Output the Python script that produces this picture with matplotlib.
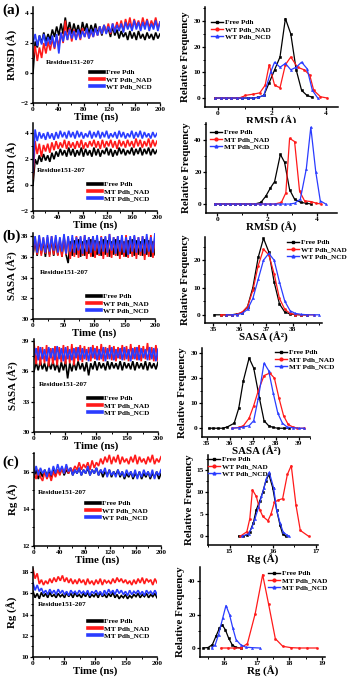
import numpy as np
import matplotlib
matplotlib.use("Agg")
import matplotlib.pyplot as plt
from matplotlib.ticker import AutoMinorLocator
from matplotlib.lines import Line2D

plt.rcParams['font.family'] = ['Liberation Serif', 'DejaVu Serif']
plt.rcParams['font.weight'] = 'bold'

W, H = 348, 678
BLACK, RED, BLUE = '#000000', '#ff1a1a', '#2a3cff'

# ---------------- time series (ns on x) ----------------
# (a) RMSD, wild type
rmsd_wt_free = [0.0, 2.1, 1.7, 2.5, 2.0, 2.7, 2.1, 2.6, 2.2, 2.9,
                2.4, 3.1, 2.5, 3.3, 2.6, 3.7, 2.7, 3.4, 2.6, 3.3,
                2.7, 3.2, 2.5, 3.4, 2.8, 3.3, 2.6, 3.2, 2.7, 3.3,
                2.6, 3.1, 2.5, 3.2, 2.7, 3.0, 2.4, 3.1, 2.5, 2.9,
                2.3, 2.8, 2.4, 2.7, 2.2, 2.8, 2.3, 2.7, 2.2, 2.8,
                2.3, 2.6, 2.2, 2.7, 2.3, 2.6, 2.2, 2.7, 2.3, 2.6]
rmsd_wt_nad = [1.0, 1.8, 0.8, 1.7, 1.0, 2.0, 1.3, 2.1, 1.5, 2.3,
               1.6, 2.4, 1.8, 2.7, 2.0, 3.5, 2.2, 3.0, 2.1, 2.9,
               2.3, 2.8, 2.2, 3.0, 2.4, 2.9, 2.3, 2.8, 2.4, 3.0,
               2.5, 3.1, 2.6, 3.2, 2.7, 3.3, 2.6, 3.3, 2.8, 3.4,
               2.9, 3.5, 2.8, 3.6, 3.0, 3.7, 2.9, 3.6, 3.1, 3.5,
               3.0, 3.7, 3.1, 3.6, 3.0, 3.5, 3.1, 3.7, 3.0, 3.4]
rmsd_wt_ncd = [2.0, 2.6, 1.8, 2.5, 1.9, 2.6, 1.8, 2.4, 1.9, 2.5,
               1.7, 2.6, 1.3, 2.7, 2.1, 2.8, 2.2, 2.9, 2.3, 2.8,
               2.2, 2.9, 2.3, 2.8, 2.4, 3.0, 2.3, 2.9, 2.4, 3.0,
               2.5, 3.1, 2.6, 3.2, 2.6, 3.1, 2.7, 3.3, 2.7, 3.2,
               2.8, 3.3, 2.7, 3.4, 2.9, 3.3, 2.8, 3.5, 2.9, 3.4,
               2.8, 3.4, 2.9, 3.5, 2.8, 3.3, 2.9, 3.5, 2.8, 3.4]
# (a) RMSD, mutant
rmsd_mt_free = [0.0, 2.0, 1.6, 2.3, 1.8, 2.4, 1.9, 2.3, 1.8, 2.5,
                2.0, 2.6, 2.2, 2.8, 2.3, 2.7, 2.2, 2.9, 2.3, 2.8,
                2.2, 2.7, 2.3, 2.9, 2.2, 2.8, 2.3, 2.7, 2.2, 2.9,
                2.3, 2.8, 2.2, 2.7, 2.4, 2.9, 2.3, 2.8, 2.2, 2.7,
                2.3, 2.9, 2.4, 2.8, 2.3, 2.7, 2.4, 2.9, 2.3, 2.8,
                2.4, 2.9, 2.3, 2.8, 2.4, 2.9, 2.3, 2.8, 2.4, 2.7]
rmsd_mt_nad = [0.5, 3.4, 2.4, 3.2, 2.2, 3.1, 2.6, 3.2, 2.5, 3.3,
               2.7, 3.4, 2.8, 3.3, 2.9, 3.5, 2.8, 3.4, 2.9, 3.3,
               2.8, 3.4, 2.9, 3.5, 2.8, 3.3, 2.9, 3.4, 3.0, 3.5,
               2.9, 3.4, 2.8, 3.5, 2.9, 3.4, 3.0, 3.5, 2.9, 3.4,
               2.8, 3.5, 3.0, 3.4, 2.9, 3.5, 3.0, 3.4, 2.9, 3.6,
               3.0, 3.5, 2.9, 3.4, 3.0, 3.6, 2.9, 3.5, 3.0, 3.4]
rmsd_mt_ncd = [1.0, 4.3, 3.4, 4.1, 3.6, 4.0, 3.5, 4.1, 3.6, 4.0,
               3.5, 4.1, 3.6, 4.2, 3.7, 4.1, 3.6, 4.2, 3.7, 4.1,
               3.6, 4.2, 3.7, 4.1, 3.6, 4.0, 3.7, 4.2, 3.6, 4.1,
               3.7, 4.2, 3.6, 4.1, 3.7, 4.2, 3.6, 4.0, 3.7, 4.1,
               3.6, 4.2, 3.7, 4.1, 3.6, 4.0, 3.7, 4.2, 3.6, 4.1,
               3.7, 4.2, 3.6, 4.1, 3.7, 4.0, 3.6, 4.1, 3.7, 4.0]
# (b) SASA, wild type
sasa_wt_free = [36.2, 37.6, 36.1, 37.7, 36.3, 37.5, 36.0, 37.6, 36.2, 37.7,
                36.1, 37.5, 36.2, 37.6, 36.0, 37.8, 36.2, 35.4, 37.5, 36.1,
                37.6, 36.2, 37.7, 36.0, 37.5, 36.1, 37.6, 36.3, 37.7, 36.0,
                37.6, 36.2, 37.5, 36.1, 37.7, 36.2, 37.6, 36.0, 37.5, 36.2,
                37.7, 36.1, 37.6, 36.2, 37.5, 36.0, 37.6, 36.3, 37.7, 36.1,
                37.6, 36.2, 37.5, 36.1, 37.7, 36.2, 37.6, 36.0, 37.5, 36.2]
sasa_wt_nad = [36.3, 37.9, 36.2, 38.0, 36.1, 37.8, 36.3, 37.9, 36.0, 38.0,
               36.2, 37.9, 36.1, 37.8, 36.0, 38.0, 36.2, 37.9, 35.8, 37.8,
               36.0, 38.0, 35.9, 37.9, 36.1, 38.1, 35.8, 37.9, 36.0, 38.0,
               35.9, 37.8, 36.1, 38.0, 35.8, 37.9, 36.0, 38.2, 35.9, 37.9,
               36.1, 38.0, 35.8, 37.9, 36.0, 38.1, 35.9, 37.8, 36.0, 38.0,
               35.8, 37.9, 36.1, 38.0, 35.7, 37.9, 36.0, 38.1, 35.9, 38.0]
sasa_wt_ncd = [36.5, 38.0, 36.4, 38.1, 36.6, 37.9, 36.4, 38.1, 36.5, 38.0,
               36.6, 38.1, 36.4, 37.9, 36.5, 38.2, 36.3, 38.0, 36.5, 38.1,
               36.4, 37.9, 36.6, 38.0, 36.3, 38.1, 36.5, 37.9, 36.4, 38.0,
               36.6, 38.1, 36.3, 37.9, 36.5, 38.0, 36.4, 38.2, 36.6, 37.9,
               36.3, 38.0, 36.5, 38.1, 36.4, 37.9, 36.2, 38.0, 36.5, 38.1,
               36.4, 37.9, 36.5, 38.0, 36.3, 38.2, 36.5, 37.9, 36.4, 38.3]
# (b) SASA, mutant
sasa_mt_free = [36.0, 36.9, 36.1, 37.0, 36.2, 36.8, 36.0, 36.9, 36.2, 37.0,
                36.1, 36.8, 35.9, 36.9, 36.1, 37.0, 35.3, 36.8, 36.0, 36.9,
                36.1, 37.0, 36.2, 36.8, 36.0, 36.9, 35.6, 36.8, 36.2, 37.0,
                36.1, 36.9, 36.3, 36.8, 36.1, 37.0, 36.2, 36.9, 36.3, 36.8,
                36.2, 37.0, 36.1, 36.9, 36.3, 36.8, 36.2, 37.0, 36.1, 36.9,
                36.3, 36.8, 36.2, 37.0, 36.1, 36.9, 36.3, 36.8, 36.2, 36.9]
sasa_mt_nad = [38.8, 36.7, 38.5, 36.6, 38.4, 36.8, 38.6, 36.5, 38.3, 36.7,
               38.5, 36.6, 38.4, 36.9, 38.6, 36.7, 38.5, 36.8, 38.7, 36.6,
               38.4, 37.0, 38.6, 36.9, 38.5, 37.1, 38.4, 37.0, 38.6, 37.2,
               38.5, 37.1, 38.7, 37.0, 38.4, 37.2, 38.6, 37.1, 38.5, 37.0,
               38.4, 37.2, 38.6, 37.1, 38.5, 37.0, 38.7, 37.2, 38.4, 37.1,
               38.6, 37.0, 38.5, 37.2, 38.8, 37.1, 38.4, 37.0, 38.6, 37.1]
sasa_mt_ncd = [37.4, 38.3, 37.1, 38.4, 37.2, 38.2, 37.0, 38.4, 37.3, 38.3,
               37.1, 38.5, 37.2, 38.3, 37.0, 38.4, 37.2, 38.2, 37.1, 38.3,
               37.3, 38.4, 37.1, 38.3, 37.2, 38.2, 37.0, 38.4, 37.3, 38.3,
               37.1, 38.2, 37.2, 38.4, 37.0, 38.3, 37.2, 38.4, 37.1, 38.2,
               37.3, 38.3, 37.1, 38.4, 37.2, 38.2, 37.0, 38.3, 37.2, 38.4,
               37.1, 38.3, 37.3, 38.2, 37.1, 38.4, 37.2, 38.3, 37.0, 38.2]
# (c) Rg, wild type
rg_wt_free = [15.7, 16.1, 15.6, 16.0, 15.7, 16.1, 15.8, 16.0, 15.7, 16.2,
              15.8, 16.1, 15.9, 16.2, 15.8, 16.1, 15.9, 16.2, 15.8, 16.1,
              15.9, 16.2, 15.8, 16.1, 15.9, 16.2, 15.8, 16.1, 15.9, 16.2,
              15.8, 16.1, 15.7, 16.0, 15.8, 16.1, 15.7, 16.0, 15.8, 16.1,
              15.7, 16.0, 15.6, 15.9, 15.7, 16.0, 15.6, 15.9, 15.7, 16.0,
              15.6, 15.9, 15.7, 16.0, 15.6, 15.9, 15.7, 16.0, 15.6, 15.9]
rg_wt_nad = [15.9, 15.6, 16.1, 15.7, 15.5, 16.0, 15.6, 15.9, 15.5, 16.0,
             15.7, 16.1, 15.8, 16.2, 15.9, 16.3, 15.9, 16.2, 16.0, 16.3,
             16.1, 16.5, 16.1, 16.4, 16.2, 16.5, 16.1, 16.6, 16.2, 16.5,
             16.3, 16.7, 16.4, 16.8, 16.5, 16.9, 16.4, 16.8, 16.5, 16.9,
             16.4, 16.8, 16.5, 16.7, 16.4, 16.8, 16.5, 16.9, 16.4, 16.8,
             16.5, 16.7, 16.4, 16.8, 16.5, 16.9, 16.4, 16.7, 16.5, 16.8]
rg_wt_ncd = [15.9, 16.3, 15.8, 16.2, 15.9, 16.1, 15.7, 16.2, 15.8, 16.3,
             15.9, 16.4, 16.0, 16.3, 15.9, 16.4, 16.0, 16.2, 15.8, 16.1,
             15.9, 16.2, 15.8, 16.1, 15.9, 16.3, 15.8, 16.1, 15.9, 16.2,
             15.8, 16.1, 15.9, 16.2, 15.7, 16.1, 15.8, 16.0, 15.7, 16.1,
             15.8, 16.0, 15.7, 16.1, 15.8, 16.0, 15.7, 16.1, 15.6, 16.0,
             15.7, 16.1, 15.8, 16.0, 15.7, 16.1, 15.6, 16.0, 15.8, 16.1]
# (c) Rg, mutant
rg_mt_free = [16.2, 15.6, 16.0, 15.5, 16.1, 15.7, 16.0, 15.6, 16.1, 15.7,
              15.9, 15.6, 16.0, 15.7, 15.9, 15.6, 16.1, 15.7, 16.0, 15.6,
              16.1, 15.7, 15.9, 15.6, 16.0, 15.7, 16.1, 15.6, 15.9, 15.7,
              16.0, 15.6, 16.1, 15.7, 15.9, 15.6, 16.0, 15.7, 16.1, 15.6,
              15.9, 15.5, 15.8, 15.6, 15.9, 15.5, 15.8, 15.6, 15.9, 15.7,
              16.0, 15.6, 15.9, 15.7, 16.0, 15.6, 15.9, 15.7, 16.0, 15.6]
rg_mt_nad = [18.3, 17.4, 17.9, 16.9, 17.3, 16.8, 17.2, 16.9, 17.4, 17.0,
             17.5, 17.1, 17.6, 17.2, 17.7, 17.1, 17.5, 17.0, 17.4, 16.9,
             17.3, 16.9, 17.4, 17.0, 17.3, 16.8, 17.4, 16.9, 17.2, 16.8,
             17.3, 16.9, 17.4, 16.8, 17.3, 17.0, 17.2, 16.9, 17.4, 17.0,
             17.5, 17.1, 17.4, 17.0, 17.3, 16.9, 17.2, 16.8, 17.3, 16.9,
             17.4, 17.0, 17.5, 16.9, 17.4, 17.1, 17.3, 16.8, 17.4, 17.0]
rg_mt_ncd = [17.0, 16.3, 16.8, 16.2, 16.5, 16.0, 16.3, 15.9, 16.4, 16.0,
             16.3, 15.9, 16.4, 16.0, 16.3, 15.9, 16.2, 15.8, 16.3, 16.0,
             16.2, 15.9, 16.3, 16.0, 16.2, 15.9, 16.3, 15.8, 16.2, 16.0,
             16.3, 15.9, 16.2, 15.8, 16.3, 15.9, 16.4, 16.0, 16.3, 15.9,
             16.4, 16.0, 16.3, 15.9, 16.2, 15.8, 16.3, 15.9, 16.2, 16.0,
             16.3, 15.9, 16.2, 15.8, 16.3, 16.0, 16.2, 15.9, 16.3, 15.9]

# ---------------- distributions (bin centre, relative frequency) ----------------
h_rmsd_wt_free_x = [-0.1, 0.1, 0.3, 0.5, 0.7, 0.9, 1.1, 1.3, 1.5, 1.7, 1.9, 2.1, 2.3, 2.5, 2.7, 2.9, 3.1, 3.3, 3.5]
h_rmsd_wt_free_y = [0, 0, 0, 0, 0, 0, 0, 0, 0.3, 1, 6, 11, 16, 31, 25, 11, 3, 1, 0.3]
h_rmsd_wt_nad_x = [-0.1, 0.1, 0.3, 0.5, 0.7, 0.9, 1.0, 1.3, 1.55, 1.75, 1.9, 2.1, 2.3, 2.5, 2.7, 2.95, 3.2, 3.4, 3.55, 3.8, 4.05]
h_rmsd_wt_nad_y = [0, 0, 0, 0, 0, 0.3, 1, 1.5, 2, 5, 13, 5, 4, 13, 16, 12, 11, 9, 3, 0.5, 0]
h_rmsd_wt_ncd_x = [-0.1, 0.1, 0.3, 0.5, 0.7, 0.9, 1.1, 1.3, 1.5, 1.7, 1.95, 2.1, 2.3, 2.5, 2.7, 2.9, 3.1, 3.3, 3.5, 3.7]
h_rmsd_wt_ncd_y = [0, 0, 0, 0, 0, 0, 0, 0, 0.3, 1, 10, 14, 12, 13.5, 11, 12, 14, 11.5, 3, 0]

h_rmsd_mt_free_x = [-0.1, 0.1, 0.3, 0.5, 0.7, 0.9, 1.1, 1.3, 1.5, 1.75, 1.95, 2.13, 2.3, 2.53, 2.7, 2.9, 3.1, 3.35, 3.57, 3.77]
h_rmsd_mt_free_y = [0, 0, 0, 0, 0, 0, 0, 0, 0, 1, 5, 10, 14, 31, 26, 9, 3, 1, 0.5, 0]
h_rmsd_mt_nad_x = [-0.1, 0.1, 0.3, 0.5, 0.7, 0.9, 1.1, 1.3, 1.5, 1.7, 1.9, 2.1, 2.3, 2.57, 2.75, 2.9, 3.1, 3.3, 3.5, 3.77, 3.97, 4.17]
h_rmsd_mt_nad_y = [0, 0, 0, 0, 0, 0, 0, 0, 0, 0, 0, 0, 0, 1, 7, 41, 39, 8, 2, 1.5, 0.5, 0]
h_rmsd_mt_ncd_x = [-0.1, 0.1, 0.3, 0.5, 0.7, 0.9, 1.1, 1.3, 1.5, 1.7, 1.9, 2.1, 2.3, 2.5, 2.7, 2.9, 3.1, 3.33, 3.57, 3.75, 3.95, 4.13, 4.35]
h_rmsd_mt_ncd_y = [0, 0, 0, 0, 0, 0, 0, 0, 0, 0, 0, 0, 0, 0, 0, 0, 0.5, 3, 22, 48, 20, 2, 0]

h_sasa_wt_free_x = [35.05, 35.3, 35.5, 35.7, 35.9, 36.1, 36.3, 36.5, 36.7, 36.9, 37.1, 37.3, 37.5, 37.7, 37.9, 38.1, 38.3, 38.55]
h_sasa_wt_free_y = [0, 0, 0, 0, 0.3, 0.8, 3, 10, 21, 28, 23, 12, 4, 1, 0.3, 0.1, 0, 0]
h_sasa_wt_nad_x = [35.3, 35.5, 35.7, 35.9, 36.1, 36.3, 36.5, 36.7, 36.9, 37.1, 37.3, 37.5, 37.7, 37.9, 38.1, 38.3, 38.55, 38.8]
h_sasa_wt_nad_y = [0, 0, 0, 0.2, 1, 3, 9, 18, 24, 22, 15, 6, 2, 0.5, 0.1, 0, 0, 0]
h_sasa_wt_ncd_x = [35.5, 35.7, 35.9, 36.1, 36.3, 36.5, 36.7, 36.9, 37.1, 37.3, 37.5, 37.7, 37.9, 38.1, 38.3, 38.55, 38.8, 39.0]
h_sasa_wt_ncd_y = [0, 0, 0.1, 0.5, 2, 6, 13, 20, 22.5, 20, 12, 5, 1.5, 0.5, 0.2, 0, 0, 0]

h_sasa_mt_free_x = [35.1, 35.3, 35.5, 35.7, 35.9, 36.2, 36.4, 36.6, 36.85, 37.05, 37.3, 37.5, 37.7, 37.9, 38.1, 38.35, 38.6]
h_sasa_mt_free_y = [0, 0, 0, 0, 0.5, 2, 8, 19, 28, 24, 12, 3, 1, 0.3, 0, 0, 0]
h_sasa_mt_nad_x = [36.1, 36.4, 36.6, 36.85, 37.05, 37.25, 37.5, 37.75, 37.95, 38.15, 38.35, 38.55, 38.75, 38.95, 39.25]
h_sasa_mt_nad_y = [0, 0.3, 1, 4, 9, 15, 21, 22, 20, 12, 5, 1.5, 0.5, 0, 0]
h_sasa_mt_ncd_x = [36.1, 36.4, 36.6, 36.85, 37.05, 37.25, 37.5, 37.7, 37.9, 38.1, 38.3, 38.5, 38.75, 39.0, 39.25]
h_sasa_mt_ncd_y = [0, 0.2, 0.5, 1, 3, 12, 26, 23, 14, 6, 2, 0.5, 0.2, 0, 0]

h_rg_wt_free_x = [15.21, 15.3, 15.4, 15.47, 15.55, 15.62, 15.7, 15.77, 15.84, 15.91, 16.0, 16.09, 16.17, 16.23, 16.3]
h_rg_wt_free_y = [0, 0, 0.3, 1, 3, 6, 8, 10, 12.5, 14, 11, 6, 2.5, 0.5, 0]
h_rg_wt_nad_x = [15.25, 15.4, 15.47, 15.53, 15.62, 15.7, 15.77, 15.89, 15.96, 16.04, 16.13, 16.23, 16.34, 16.43, 16.54, 16.64, 16.83]
h_rg_wt_nad_y = [0, 1, 4, 10.5, 9, 6, 4.5, 3.5, 5, 7.7, 8.2, 8.5, 14, 16, 7, 1.3, 0]
h_rg_wt_ncd_x = [15.29, 15.44, 15.52, 15.59, 15.67, 15.74, 15.8, 15.85, 15.92, 16.02, 16.09, 16.17, 16.24, 16.32, 16.38]
h_rg_wt_ncd_y = [0, 0.5, 2, 4, 6.5, 9, 11, 13, 14.5, 11, 6, 3, 1, 0.3, 0]

h_rg_mt_free_x = [15.35, 15.5, 15.63, 15.74, 15.85, 15.93, 16.03, 16.13, 16.24, 16.34, 16.5]
h_rg_mt_free_y = [0, 0.3, 2, 7, 12, 14, 11, 6, 2, 0.5, 0]
h_rg_mt_nad_x = [15.9, 16.1, 16.3, 16.5, 16.71, 16.95, 17.18, 17.36, 17.57, 17.8, 18.06, 18.3, 18.55, 18.84]
h_rg_mt_nad_y = [0, 0, 0, 0, 2.6, 20.6, 44, 26.6, 5.6, 1, 0.2, 0, 0, 0]
h_rg_mt_ncd_x = [15.61, 15.72, 15.82, 15.95, 16.05, 16.16, 16.26, 16.36, 16.5, 16.66, 16.86, 17.1]
h_rg_mt_ncd_y = [0, 2, 8, 18, 25.5, 20, 12, 5, 2, 0.5, 0.2, 0]

wt_names = ['Free Pdh', 'WT Pdh_NAD', 'WT Pdh_NCD']
mt_names = ['Free Pdh', 'MT Pdh_NAD', 'MT Pdh_NCD']
colors = [BLACK, RED, BLUE]
markers = ['s', 'o', '^']

fig = plt.figure(figsize=(W / 100, H / 100), dpi=100)


def px_axes(x0, y0, x1, y1):
    return fig.add_axes([x0 / W, 1 - y1 / H, (x1 - x0) / W, (y1 - y0) / H])


def style(ax):
    for s in ['top', 'right']:
        ax.spines[s].set_visible(False)
    for s in ['left', 'bottom']:
        ax.spines[s].set_linewidth(1.1)
    ax.tick_params(which='major', direction='out', length=2.2, width=0.9, labelsize=5.3, pad=1)
    ax.tick_params(which='minor', direction='out', length=1.2, width=0.7)
    ax.xaxis.set_minor_locator(AutoMinorLocator(2))
    ax.yaxis.set_minor_locator(AutoMinorLocator(2))
    for lab in ax.get_xticklabels() + ax.get_yticklabels():
        lab.set_fontweight('bold')


def fig_legend(names, x, y, with_marker, handlelength=1.9):
    if with_marker:
        hs = [Line2D([], [], color=c, lw=1.0, marker=m, ms=2) for c, m in zip(colors, markers)]
    else:
        hs = [Line2D([], [], color=c, lw=2.6) for c in colors]
    fig.legend(hs, names, loc='upper left', bbox_to_anchor=(x / W, 1 - y / H),
               frameon=False, handlelength=handlelength, handletextpad=0.35,
               labelspacing=0.15, borderpad=0, borderaxespad=0,
               prop={'family': 'Liberation Serif', 'weight': 'bold', 'size': 5.2})


def time_panel(rect, series, ylim, yticks, xticks, ylabel, names, leg_xy, res_xy):
    ax = px_axes(*rect)
    for vals, c in zip(series, colors):
        t = np.linspace(0, 200, len(vals))
        ax.plot(t, vals, color=c, lw=1.2, solid_joinstyle='miter')
    ax.set_xlim(0, 200)
    ax.set_ylim(*ylim)
    ax.set_xticks(xticks)
    ax.set_yticks(yticks)
    style(ax)
    ax.set_xlabel('Time (ns)', fontsize=7.8, fontweight='bold', labelpad=0)
    ax.set_ylabel(ylabel, fontsize=7.8, fontweight='bold', labelpad=2)
    fig.text(res_xy[0] / W, 1 - res_xy[1] / H, 'Residue151-207', fontsize=5.2,
             fontweight='bold', va='center', ha='left')
    fig_legend(names, leg_xy[0], leg_xy[1], False)
    return ax


def hist_panel(rect, xs, ys, xlim, ylim, xticks, yticks, xlabel, names, leg_xy):
    ax = px_axes(*rect)
    for x, y, c, m in zip(xs, ys, colors, markers):
        ax.plot(x, y, color=c, lw=0.9, marker=m, ms=1.5, mew=0.4)
    ax.set_xlim(*xlim)
    ax.set_ylim(*ylim)
    ax.set_xticks(xticks)
    ax.set_yticks(yticks)
    style(ax)
    ax.set_xlabel(xlabel, fontsize=7.8, fontweight='bold', labelpad=0)
    ax.set_ylabel('Relative Frequency', fontsize=7.8, fontweight='bold', labelpad=2)
    fig_legend(names, leg_xy[0], leg_xy[1], True, handlelength=1.6)
    return ax


# ---- row 1: RMSD wild type ----
time_panel((33, 7, 160, 103), [rmsd_wt_free, rmsd_wt_nad, rmsd_wt_ncd],
           (-2, 4.4), [-2, 0, 2, 4], [0, 40, 80, 120, 160, 200], 'RMSD (Å)',
           wt_names, (90, 69), (46, 63))
hist_panel((205, 7, 338, 107),
           [h_rmsd_wt_free_x, h_rmsd_wt_nad_x, h_rmsd_wt_ncd_x],
           [h_rmsd_wt_free_y, h_rmsd_wt_nad_y, h_rmsd_wt_ncd_y],
           (-0.48, 4.45), (-3.5, 35.5), [0, 2, 4], [0, 10, 20, 30], 'RMSD (Å)',
           wt_names, (211, 19))

# ---- row 2: RMSD mutant ----
time_panel((33, 123, 157, 211), [rmsd_mt_free, rmsd_mt_nad, rmsd_mt_ncd],
           (-2, 4.8), [-2, 0, 2, 4], [0, 40, 80, 120, 160, 200], 'RMSD (Å)',
           mt_names, (88, 181), (37, 170))
hist_panel((206, 123, 337, 213),
           [h_rmsd_mt_free_x, h_rmsd_mt_nad_x, h_rmsd_mt_ncd_x],
           [h_rmsd_mt_free_y, h_rmsd_mt_nad_y, h_rmsd_mt_ncd_y],
           (-0.45, 4.8), (-5.6, 50.6), [0, 2, 4], [0, 20, 40], 'RMSD (Å)',
           mt_names, (210, 129))

# ---- row 3: SASA wild type ----
time_panel((33, 233, 155, 319), [sasa_wt_free, sasa_wt_nad, sasa_wt_ncd],
           (30, 38.3), [30, 32, 34, 36, 38], [0, 50, 100, 150, 200], 'SASA (Å²)',
           wt_names, (87, 293), (40, 272))
hist_panel((205, 237, 322, 323),
           [h_sasa_wt_free_x, h_sasa_wt_nad_x, h_sasa_wt_ncd_x],
           [h_sasa_wt_free_y, h_sasa_wt_nad_y, h_sasa_wt_ncd_y],
           (34.7, 39.1), (-3, 28.5), [35, 36, 37, 38], [0, 10, 20], 'SASA (Å²)',
           wt_names, (287, 239))

# ---- row 4: SASA mutant ----
time_panel((34, 339, 158, 432), [sasa_mt_free, sasa_mt_nad, sasa_mt_ncd],
           (30, 39.2), [30, 33, 36, 39], [0, 50, 100, 150, 200], 'SASA (Å²)',
           mt_names, (88, 395), (39, 384))
hist_panel((202, 348, 310, 437),
           [h_sasa_mt_free_x, h_sasa_mt_nad_x, h_sasa_mt_ncd_x],
           [h_sasa_mt_free_y, h_sasa_mt_nad_y, h_sasa_mt_ncd_y],
           (34.8, 39.5), (-3.5, 32), [35, 36, 37, 38, 39], [0, 10, 20, 30], 'SASA (Å²)',
           mt_names, (275, 349))

# ---- row 5: Rg wild type ----
time_panel((34, 453, 161, 546), [rg_wt_free, rg_wt_nad, rg_wt_ncd],
           (12, 17), [12, 14, 16], [0, 40, 80, 120, 160, 200], 'Rg (Å)',
           wt_names, (86, 500), (38, 492))
hist_panel((208, 455, 318, 545),
           [h_rg_wt_free_x, h_rg_wt_nad_x, h_rg_wt_ncd_x],
           [h_rg_wt_free_y, h_rg_wt_nad_y, h_rg_wt_ncd_y],
           (14.5, 17.05), (-2, 18.4), [15, 16, 17], [0, 5, 10, 15], 'Rg (Å)',
           wt_names, (208, 456))

# ---- row 6: Rg mutant ----
time_panel((33, 567, 157, 657), [rg_mt_free, rg_mt_nad, rg_mt_ncd],
           (10, 18.5), [10, 12, 14, 16, 18], [0, 50, 100, 150, 200], 'Rg (Å)',
           mt_names, (88, 618), (38, 605))
hist_panel((200, 567, 325, 657),
           [h_rg_mt_free_x, h_rg_mt_nad_x, h_rg_mt_ncd_x],
           [h_rg_mt_free_y, h_rg_mt_nad_y, h_rg_mt_ncd_y],
           (15.25, 19.1), (-5.4, 48.6), [16, 17, 18, 19], [0, 20, 40], 'Rg (Å)',
           mt_names, (268, 570))

# panel letters
for lab, y in [('(a)', 10), ('(b)', 236), ('(c)', 462)]:
    fig.text(2 / W, 1 - y / H, lab, fontsize=11, fontweight='bold', va='center', ha='left')

fig.savefig('out.png', dpi=100)
